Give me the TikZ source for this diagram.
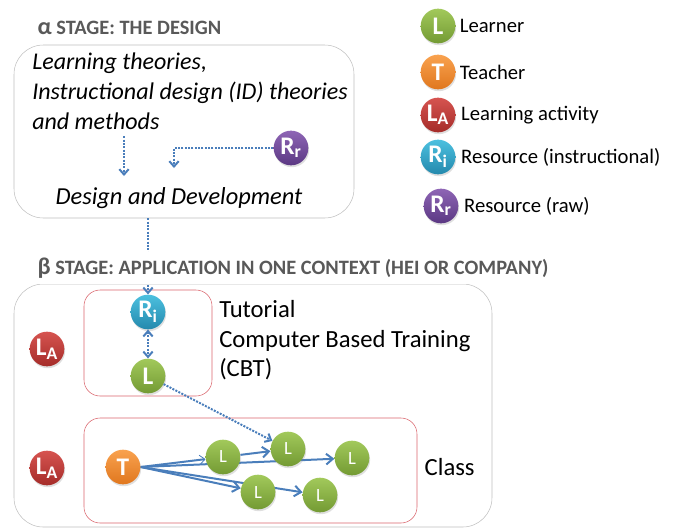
\documentclass[tikz,border=0pt]{standalone}
\usepackage{fontspec}
\setmainfont{Carlito}
\usetikzlibrary{positioning,shadows,arrows.meta,fit,backgrounds}

\definecolor{learnertop}{HTML}{A2C95B}
\definecolor{learnerbot}{HTML}{739A33}
\definecolor{teachertop}{HTML}{F9A24F}
\definecolor{teacherbot}{HTML}{E0771E}
\definecolor{activitytop}{HTML}{D65450}
\definecolor{activitybot}{HTML}{A52C29}
\definecolor{instrtop}{HTML}{4CC0DF}
\definecolor{instrbot}{HTML}{2489AD}
\definecolor{rawtop}{HTML}{8E65B5}
\definecolor{rawbot}{HTML}{5B3883}
\definecolor{flowblue}{HTML}{4A7EBB}
\definecolor{boxred}{HTML}{D9646B}
\definecolor{titlegray}{HTML}{595959}

\begin{document}
\begin{tikzpicture}[x=0.75pt, y=-0.75pt]
  \tikzstyle{ball} = [circle, inner sep=0pt, minimum size=26pt, text=white, font=\fontsize{19}{19}\selectfont\bfseries, drop shadow={opacity=0.25, shadow xshift=0.6pt, shadow yshift=-1.4pt}]
  \tikzstyle{learner} = [ball, top color=learnertop, bottom color=learnerbot]
  \tikzstyle{teacher} = [ball, top color=teachertop, bottom color=teacherbot]
  \tikzstyle{activity} = [ball, top color=activitytop, bottom color=activitybot]
  \tikzstyle{instr} = [ball, top color=instrtop, bottom color=instrbot]
  \tikzstyle{raw} = [ball, top color=rawtop, bottom color=rawbot]
  \tikzstyle{small} = [font=\fontsize{14}{14}\selectfont]
  \tikzstyle{stagebox} = [draw=black!25, rounded corners=22pt, inner sep=0pt]
  \tikzstyle{actbox} = [draw=boxred, rounded corners=12pt, inner sep=0pt]
  \tikzstyle{stagetitle} = [anchor=west, inner sep=1pt, text=titlegray, font=\fontsize{15.3}{15.3}\selectfont\bfseries]
  \tikzstyle{legend} = [anchor=west, inner sep=1pt, font=\fontsize{15.5}{15.5}\selectfont]
  \tikzstyle{flow} = [draw=flowblue, densely dotted, line width=1.5pt, -{Straight Barb[length=4pt, width=7pt]}]
  \tikzstyle{teach} = [draw=flowblue, line width=1.5pt, -{Straight Barb[length=5pt, width=8pt]}]

  \useasboundingbox (0,0) rectangle (677,529);

  % legend
  \node [learner] (keyl) at (438,26) {L};
  \node [teacher] (keyt) at (438,72) {T};
  \node [activity] (keya) at (438,115) {L\textsubscript{A}};
  \node [instr] (keyi) at (438,157) {R\textsubscript{i}};
  \node [raw] (keyr) at (441,206) {R\textsubscript{r}};
  \node [legend, right=2pt of keyl] {Learner};
  \node [legend, right=2pt of keyt] {Teacher};
  \node [legend, right=3pt of keya] {Learning activity};
  \node [legend, right=3pt of keyi] {Resource (instructional)};
  \node [legend, right=3pt of keyr] {Resource (raw)};

  % alpha stage
  \node [stagetitle] (alphatitle) at (36,28) {{\fontsize{18}{18}\selectfont α} STAGE: THE DESIGN};
  \node [stagebox, fit={(14,45) (354,218)}] (alpha) {};
  \node [anchor=north west, align=left, inner sep=0pt, font=\fontsize{18}{22.5}\selectfont\itshape] (theories) at (32,53) {Learning theories,\\Instructional design (ID) theories\\and methods};
  \node [font=\fontsize{18.3}{18.3}\selectfont\itshape] (design) at (179,198) {Design and Development};
  \node [raw] (rraw) at (291,148) {R\textsubscript{r}};
  \coordinate (theoryend) at (124,176);
  \coordinate (rawend) at (174,168);
  \draw [flow] (theories.south -| theoryend) ++(0,6) -- (theoryend);
  \draw [flow] (rraw.west) -| (rawend);

  % beta stage
  \node [stagebox, fit={(14,284) (492,527)}] (beta) {};
  \node [actbox, fit={(84,290) (212,396)}] (tutorial) {};
  \node [actbox, fit={(84,418) (417,523)}] (class) {};
  \node [instr] (ri) at (148,312) {R\textsubscript{i}};
  \node [learner] (tl) at (148,376) {L};
  \draw [flow] (alpha.south -| ri) -- (ri);
  \node [stagetitle, fill=white, inner ysep=4pt] (betatitle) at (36,268) {{\fontsize{18}{18}\selectfont β} STAGE: APPLICATION IN ONE CONTEXT (HEI OR COMPANY)};
  \node [anchor=north west, align=left, inner sep=0pt, font=\fontsize{18.5}{22.2}\selectfont] (tuttext) at (219,300) {Tutorial\\Computer Based Training\\(CBT)};
  \node [activity] (acttut) at (47,349) {L\textsubscript{A}};
  \node [activity] (actclass) at (47,468) {L\textsubscript{A}};
  \node [font=\fontsize{18.5}{18.5}\selectfont, anchor=west] (classtext) at (420,467) {Class};

  \node [teacher] (t) at (123,467) {T};
  \node [learner, small] (la) at (223,457) {L};
  \node [learner, small] (lb) at (288,449) {L};
  \node [learner, small] (lc) at (352,458) {L};
  \node [learner, small] (ld) at (258,492) {L};
  \node [learner, small] (le) at (320,495) {L};

  \draw [flow, {Straight Barb[length=4pt, width=7pt]}-{Straight Barb[length=4pt, width=7pt]}] (ri) -- (tl);
  \draw [flow] (tl) -- (lb);

  \begin{scope}[on background layer]
    \draw [teach, -{Straight Barb[length=4pt, width=7pt, line width=0.6pt]}] (t.east) -- (la);
    \draw [teach] (t.east) -- (lc);
    \draw [teach] (t.east) -- (ld);
    \draw [teach] (t.east) -- (le);
    \draw [teach] (la) -- (lb);
  \end{scope}
\end{tikzpicture}
\end{document}
